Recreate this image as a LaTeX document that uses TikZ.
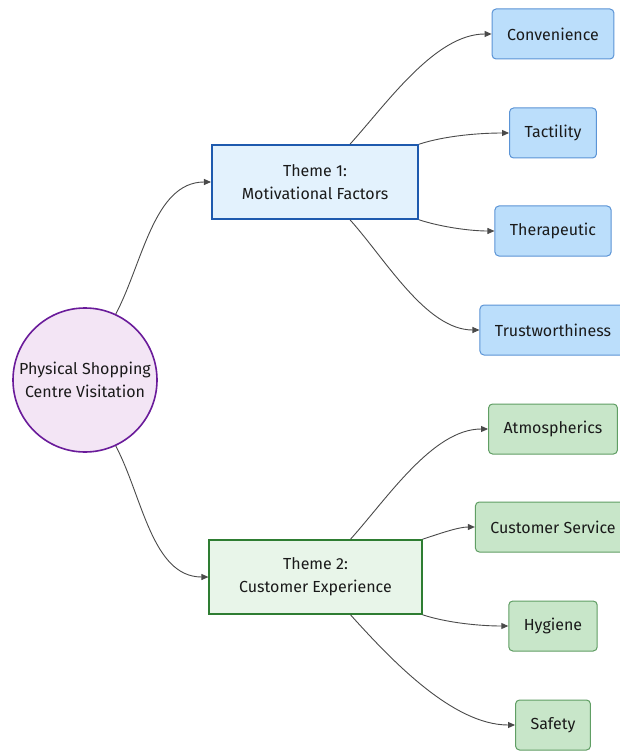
\documentclass[tikz,border=0pt]{standalone}
\usepackage{fontspec}
\setmainfont{Fira Sans}
\usetikzlibrary{arrows.meta,calc}
\definecolor{circfill}{HTML}{F3E5F5}
\definecolor{circdraw}{HTML}{6A1B9A}
\definecolor{tonefill}{HTML}{E3F2FD}
\definecolor{tonedraw}{HTML}{1E5AAE}
\definecolor{bleaffill}{HTML}{BBDEFB}
\definecolor{bleafdraw}{HTML}{5B94D6}
\definecolor{ttwofill}{HTML}{E8F5E9}
\definecolor{ttwodraw}{HTML}{2E7D32}
\definecolor{gleaffill}{HTML}{C8E6C9}
\definecolor{gleafdraw}{HTML}{609E64}
\definecolor{edgecol}{HTML}{4A4A4A}
\definecolor{txtcol}{HTML}{1A1A1A}
\begin{document}
\begin{tikzpicture}[x=1pt,y=1pt,
  every node/.style={font=\fontsize{16}{23}\selectfont, text=txtcol},
  rootnode/.style={circle, draw=circdraw, fill=circfill, line width=1.6pt, minimum size=144pt, inner sep=0pt, align=center},
  themeone/.style={rectangle, draw=tonedraw, fill=tonefill, line width=1.6pt, minimum height=74pt, inner xsep=30pt, align=center},
  themetwo/.style={rectangle, draw=ttwodraw, fill=ttwofill, line width=1.6pt, minimum height=74pt, inner xsep=30pt, align=center},
  bleaf/.style={rectangle, rounded corners=4pt, draw=bleafdraw, fill=bleaffill, line width=1pt, minimum height=50pt, inner xsep=15pt},
  gleaf/.style={rectangle, rounded corners=4pt, draw=gleafdraw, fill=gleaffill, line width=1pt, minimum height=50pt, inner xsep=15pt},
  conn/.style={draw=edgecol, line width=0.9pt, -{Triangle[length=7pt,width=6pt]}}
]
\useasboundingbox[fill=white] (0,0) rectangle (620,-751);

\node[rootnode] (root) at (85,-380) {Physical Shopping\\Centre Visitation};
\node[themeone] (t1) at (315,-182) {Theme 1:\\Motivational Factors};
\node[themetwo] (t2) at (315.5,-577) {Theme 2:\\Customer Experience};

\node[bleaf] (conv) at (553,-34) {Convenience};
\node[bleaf] (tact) at (553,-133) {Tactility};
\node[bleaf] (ther) at (553,-231) {Therapeutic};
\node[bleaf] (trus) at (553,-330) {Trustworthiness};

\node[gleaf] (atmo) at (553,-429) {Atmospherics};
\node[gleaf] (cust) at (553,-527) {Customer Service};
\node[gleaf] (hyg) at (553,-626) {Hygiene};
\node[gleaf] (safe) at (553,-725) {Safety};

\draw[conn] (root.65) to[out=62,in=180,looseness=0.9] (t1.west);
\draw[conn] (root.-65) to[out=-62,in=180,looseness=0.9] (t2.west);

\draw[conn] ([xshift=35pt]t1.north) to[out=48,in=180,looseness=0.8] (conv.west);
\draw[conn] (t1.north east) to[out=18,in=180,looseness=0.8] (tact.west);
\draw[conn] (t1.south east) to[out=-18,in=180,looseness=0.8] (ther.west);
\draw[conn] ([xshift=35pt]t1.south) to[out=-48,in=180,looseness=0.8] (trus.west);

\draw[conn] ([xshift=35pt]t2.north) to[out=48,in=180,looseness=0.8] (atmo.west);
\draw[conn] (t2.north east) to[out=18,in=180,looseness=0.8] (cust.west);
\draw[conn] (t2.south east) to[out=-18,in=180,looseness=0.8] (hyg.west);
\draw[conn] ([xshift=35pt]t2.south) to[out=-48,in=180,looseness=0.8] (safe.west);
\end{tikzpicture}
\end{document}
